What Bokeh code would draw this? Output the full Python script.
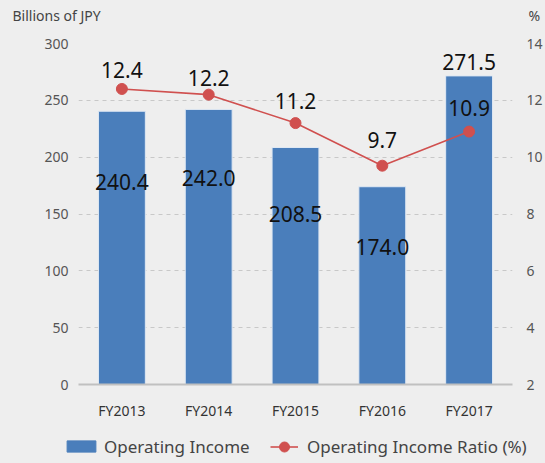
from bokeh.plotting import figure
from bokeh.layouts import column
from bokeh.models import (ColumnDataSource, Range1d, LinearAxis, Label, Legend,
                          LegendItem, FixedTicker)
from bokeh.core.properties import value
from bokeh.embed import file_html
from bokeh.resources import INLINE

# ---- data ----
years = ["FY2013", "FY2014", "FY2015", "FY2016", "FY2017"]
income = [240.4, 242.0, 208.5, 174.0, 271.5]
ratio = [12.4, 12.2, 11.2, 9.7, 10.9]
left_ticks = [0, 50, 100, 150, 200, 250, 300]
right_ticks = [2, 4, 6, 8, 10, 12, 14]

# label placement (screen px, positive = down)
bar_label_dy = [71, 69, 66, 60, -14]
ratio_label_dy = [-19, -17, -22, -26, -24]

FONT = "Noto Sans"
BG = "#eeeeee"
BLUE = "#4a7ebb"
RED = "#d0504f"
W = 545
BG_STYLE = {"background-color": BG}


def strip(height):
    f = figure(width=W, height=height, output_backend="svg", toolbar_location=None,
               x_axis_location=None, y_axis_location=None,
               x_range=Range1d(0, 1), y_range=Range1d(0, 1),
               min_border=0, background_fill_color=BG, border_fill_color=BG,
               outline_line_color=None, styles=BG_STYLE)
    if "frame_align" in f.properties():
        f.frame_align = False
    f.xgrid.grid_line_color = None
    f.ygrid.grid_line_color = None
    return f


src = ColumnDataSource(dict(
    year=years, income=income, ratio=ratio,
    income_lbl=["%.1f" % v for v in income],
    ratio_lbl=["%.1f" % v for v in ratio],
    bar_dy=bar_label_dy, ratio_dy=ratio_label_dy,
))

# ---- header strip (unit captions) ----
top = strip(33)
top.add_layout(Label(x=12, y=18, x_units="screen", y_units="screen",
                     text="Billions of JPY", text_font=FONT, text_font_size="14px",
                     text_color="#444444", text_baseline="middle", text_align="left"))
top.add_layout(Label(x=528, y=18, x_units="screen", y_units="screen",
                     text="%", text_font=FONT, text_font_size="14px",
                     text_color="#444444", text_baseline="middle", text_align="left"))

# ---- main chart ----
p = figure(width=W, height=395, x_range=years, y_range=Range1d(0, 300),
           output_backend="svg", toolbar_location=None,
           min_border_left=78, min_border_right=32, min_border_top=10,
           min_border_bottom=44,
           background_fill_color=BG, border_fill_color=BG,
           outline_line_color=None, styles=BG_STYLE)
p.extra_y_ranges = {"pct": Range1d(2, 14)}

p.yaxis.ticker = FixedTicker(ticks=left_ticks)
p.yaxis.axis_line_color = None
p.yaxis.major_tick_line_color = None
p.yaxis.major_tick_out = 0
p.yaxis.major_tick_in = 0
p.yaxis.minor_tick_line_color = None
p.yaxis.major_label_standoff = 10
p.yaxis.major_label_text_font = FONT
p.yaxis.major_label_text_font_size = "14px"
p.yaxis.major_label_text_color = "#555555"

ry = LinearAxis(y_range_name="pct", ticker=FixedTicker(ticks=right_ticks))
ry.axis_line_color = None
ry.major_tick_line_color = None
ry.major_tick_out = 0
ry.major_tick_in = 0
ry.minor_tick_line_color = None
ry.major_label_standoff = 14
ry.major_label_text_font = FONT
ry.major_label_text_font_size = "14px"
ry.major_label_text_color = "#555555"
p.add_layout(ry, "right")

p.xaxis.axis_line_color = "#c0c0c0"
p.xaxis.axis_line_width = 2
p.xaxis.major_tick_line_color = None
p.xaxis.major_tick_out = 0
p.xaxis.major_tick_in = 0
p.xaxis.minor_tick_line_color = None
p.xaxis.major_label_standoff = 16
p.xaxis.major_label_text_font = FONT
p.xaxis.major_label_text_font_size = "14px"
p.xaxis.major_label_text_color = "#333333"

p.xgrid.grid_line_color = None
p.ygrid.ticker = FixedTicker(ticks=left_ticks[1:])
p.ygrid.grid_line_color = "#c8c8c8"
p.ygrid.grid_line_dash = "4 4"

p.vbar(x="year", top="income", width=0.54, source=src,
       fill_color=BLUE, line_color="#dfe8f3", line_width=1)
p.line(x="year", y="ratio", source=src, y_range_name="pct",
       line_color=RED, line_width=1.6)
p.scatter(x="year", y="ratio", source=src, y_range_name="pct",
          size=11, fill_color=RED, line_color=RED)

p.text(x="year", y="income", text="income_lbl", source=src,
       y_offset="bar_dy", text_align="center", text_baseline="middle",
       text_font=value(FONT), text_font_size="21px", text_color="#111111")
p.text(x="year", y="ratio", text="ratio_lbl", source=src, y_range_name="pct",
       y_offset="ratio_dy", text_align="center", text_baseline="middle",
       text_font=value(FONT), text_font_size="21px", text_color="#111111")

# ---- legend strip (legend proxies hold no visible points) ----
bot = strip(35)
nan = float("nan")
proxy = ColumnDataSource(dict(x=[nan], y=[nan]))
leg_bar = bot.vbar(x="x", top="y", width=0.5, source=proxy,
                   fill_color=BLUE, line_color=BLUE)
leg_line = bot.line(x="x", y="y", source=proxy, line_color=RED, line_width=1.6)
leg_dot = bot.scatter(x="x", y="y", source=proxy, fill_color=RED, line_color=RED)


def make_legend(label, renderers, loc, gw, gh, standoff):
    lg = Legend(items=[LegendItem(label=label, renderers=renderers)],
                location=loc, orientation="horizontal")
    lg.background_fill_alpha = 0
    lg.border_line_color = None
    lg.padding = 0
    lg.margin = 0
    lg.glyph_width = gw
    lg.glyph_height = gh
    lg.label_standoff = standoff
    lg.label_text_font = FONT
    lg.label_text_font_size = "17px"
    lg.label_text_color = "#444444"
    return lg


bot.add_layout(make_legend("Operating Income", [leg_bar], (63, 5.5), 36, 14, 5))
bot.add_layout(make_legend("Operating Income Ratio (%)", [leg_line, leg_dot],
                           (270, 4.5), 28, 25, 9))

page = column(top, p, bot, spacing=0, styles=BG_STYLE)
open("out.html", "w").write(file_html(page, INLINE))
